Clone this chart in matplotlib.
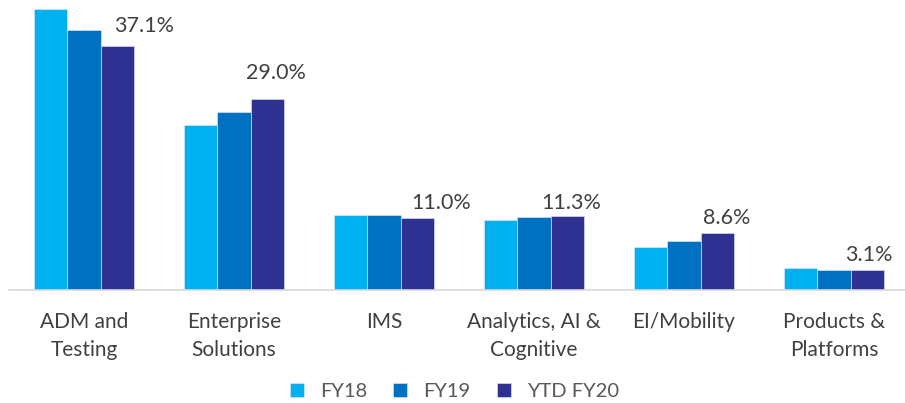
import numpy as np
from matplotlib import pyplot as plt

categories = ['ADM and\nTesting', 'Enterprise\nSolutions', 'IMS', 'Analytics, AI &\nCognitive', 'EI/Mobility', 'Products &\nPlatforms']
fy18 = [42.7, 25.1, 11.4, 10.6, 6.6, 3.4]
fy19 = [39.5, 27.1, 11.4, 11.1, 7.5, 3.0]
fy20 = [37.1, 29.0, 11.0, 11.3, 8.6, 3.1]
series_names = ['FY18', 'FY19', 'YTD FY20']

colors = ['#00B0F0', '#0070C0', '#2E3192']
label_offsets = [(19, 3), (6, 8), (17, -1), (3, -2), (7, 0), (1, -1)]    # manual label nudges (points)

plt.rcParams['font.family'] = ['Lato', 'DejaVu Sans']

fig = plt.figure(figsize=(9.05, 4.03), dpi=100)
ax = fig.add_axes([9 / 905, 113 / 403, 896 / 905, 289.4 / 403])

x = np.arange(len(categories))
w = 0.222
for i, (vals, name) in enumerate(zip([fy18, fy19, fy20], series_names)):
    plt.bar(x + (i - 1) * w, vals, w, color=colors[i], edgecolor='#E8ECF6', linewidth=0.4, label=name)

for xi, v, (dx, dy) in zip(x, fy20, label_offsets):
    plt.annotate(f'{v:.1f}%', (xi + w, v), xytext=(dx, dy + 4), textcoords='offset points',
                 ha='center', va='bottom', fontsize=15.5, color='#404040')

plt.xlim(-0.5, 5.473)
plt.ylim(0, 44)
plt.xticks(x, categories, fontsize=15, color='#404040', linespacing=1.5)
plt.yticks([])
ax.tick_params(axis='x', length=0, pad=16)
for s in ['top', 'right', 'left']:
    ax.spines[s].set_visible(False)
ax.spines['bottom'].set_color('#D9D9D9')
ax.spines['bottom'].set_linewidth(1.2)

leg = plt.legend(loc='center', bbox_to_anchor=(0.497, -0.35), ncol=3, frameon=False,
                 fontsize=14.5, handlelength=0.7, handleheight=0.7, handletextpad=0.8, columnspacing=1.3)
for t in leg.get_texts():
    t.set_color('#595959')

plt.savefig('out.png', dpi=100)
